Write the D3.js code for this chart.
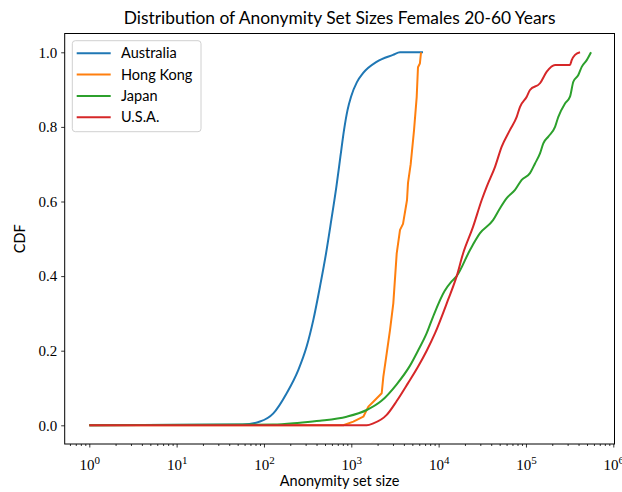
<!DOCTYPE html>
<html lang="en">
<head>
<meta charset="utf-8">
<title>Distribution of Anonymity Set Sizes</title>
<script src="https://d3js.org/d3.v7.min.js"></script>
<style>
  body { margin: 0; background: #fff; }
  .sans { font-family: Lato, "DejaVu Sans", sans-serif; }
  .serif { font-family: "Liberation Serif", "DejaVu Serif", serif; }
</style>
</head>
<body>
<div id="chart"></div>
<script>

// series: [set size, cdf]
var australia = [
  [1, 0], [57, 0.002], [90, 0.01], [128, 0.032], [182, 0.086], [247, 0.148],
  [308, 0.211], [367, 0.282], [438, 0.372], [513, 0.46], [590, 0.55],
  [675, 0.64], [750, 0.72], [826, 0.792], [905, 0.845], [993, 0.881],
  [1160, 0.92], [1362, 0.944], [1969, 0.975], [3003, 0.993], [3613, 1.0],
  [6622, 1.0]
];
var hongKong = [
  [1, 0], [811, 0], [1055, 0.01], [1373, 0.023], [1567, 0.05], [1786, 0.063],
  [2230, 0.086], [2326, 0.13], [2543, 0.193], [2774, 0.255], [3027, 0.327],
  [3311, 0.461], [3613, 0.524], [3910, 0.54], [4345, 0.604], [4460, 0.65],
  [4787, 0.70], [5222, 0.79], [5607, 0.88], [5802, 0.96], [6100, 0.97], [6286, 1.0]
];
var japan = [
  [1, 0], [128, 0.002], [259, 0.007], [438, 0.012], [886, 0.023], [1501, 0.041],
  [2200, 0.065], [3311, 0.11], [4700, 0.16], [5802, 0.2], [7300, 0.247],
  [8625, 0.291], [11700, 0.36], [14000, 0.385], [16100, 0.4], [22870, 0.47],
  [29770, 0.515], [41970, 0.55], [50460, 0.582], [60230, 0.609], [74960, 0.631],
  [89400, 0.658], [111200, 0.676], [127000, 0.702], [144800, 0.729],
  [158000, 0.756], [180400, 0.774], [215300, 0.8], [234700, 0.827],
  [280000, 0.863], [319300, 0.881], [348500, 0.921], [397500, 0.939],
  [434800, 0.961], [496400, 0.979], [556100, 1.0]
];
var usa = [
  [1, 0], [1501, 0], [1786, 0.005], [2543, 0.028], [3311, 0.065], [4460, 0.113],
  [5802, 0.157], [7300, 0.2], [9100, 0.247], [12800, 0.336], [16100, 0.4],
  [19010, 0.46], [24760, 0.532], [31140, 0.604], [35550, 0.64], [44230, 0.693],
  [52760, 0.747], [65650, 0.792], [78340, 0.827], [85500, 0.854], [102000, 0.881],
  [111200, 0.899], [144800, 0.917], [173000, 0.948], [215300, 0.966],
  [319300, 0.966], [334000, 0.979], [364600, 0.993], [416000, 1.0]
];

var seriesNames = ["Australia", "Hong Kong", "Japan", "U.S.A."];
var seriesData = [australia, hongKong, japan, usa];
var seriesColors = ["#1f77b4", "#ff7f0e", "#2ca02c", "#d62728"];

var xMajorTicks = [1, 10, 100, 1000, 10000, 100000, 1000000];
var yTicks = [0, 0.2, 0.4, 0.6, 0.8, 1.0];

var titleText = "Distribution of Anonymity Set Sizes Females 20-60 Years";
var xLabelText = "Anonymity set size";
var yLabelText = "CDF";

var width = 622, height = 492;
var frameLeft = 64.7, frameRight = 614.5, frameTop = 33.5, frameBottom = 444;

var svg = d3.select("#chart").append("svg")
  .attr("width", width)
  .attr("height", height);

// log x scale, 1..1e6 mapped onto tick positions, frame carries 5% margins
var x = d3.scaleLog().domain([1, 1e6]).range([89.3, 613.3]);
var y = d3.scaleLinear().domain([0, 1]).range([425.3, 52.3]);

svg.append("clipPath").attr("id", "frame")
  .append("rect")
  .attr("x", frameLeft).attr("y", frameTop)
  .attr("width", frameRight - frameLeft).attr("height", frameBottom - frameTop);

// minor ticks on x
var minorTicks = [];
for (var e = 0; e < 6; e++) {
  for (var m = 2; m <= 9; m++) minorTicks.push(m * Math.pow(10, e));
}
minorTicks.push(0.6, 0.7, 0.8, 0.9);

var xMinor = svg.append("g")
  .attr("transform", "translate(0," + frameBottom + ")")
  .call(d3.axisBottom(x).tickValues(minorTicks.filter(function(v) {
      return x(v) >= frameLeft && x(v) <= frameRight;
    })).tickSize(2).tickFormat(""));
xMinor.select(".domain").remove();
xMinor.selectAll("line").attr("stroke", "#000").attr("stroke-width", 0.8);

var xAxis = svg.append("g")
  .attr("transform", "translate(0," + frameBottom + ")")
  .call(d3.axisBottom(x).tickValues(xMajorTicks).tickSize(3.5).tickPadding(5).tickFormat(""));
xAxis.select(".domain").remove();
xAxis.selectAll("line").attr("stroke", "#000").attr("stroke-width", 0.8);
xAxis.selectAll(".tick").append("text")
  .attr("class", "serif")
  .attr("fill", "#000")
  .attr("y", 26)
  .attr("x", 0)
  .attr("text-anchor", "middle")
  .attr("font-size", 15)
  .each(function(d) {
    var t = d3.select(this);
    t.append("tspan").text("10");
    t.append("tspan").attr("dy", -6).attr("font-size", 11)
      .text(Math.round(Math.log10(d)));
  });

var yAxis = svg.append("g")
  .attr("transform", "translate(" + frameLeft + ",0)")
  .call(d3.axisLeft(y).tickValues(yTicks).tickSize(3.5).tickPadding(4)
    .tickFormat(d3.format(".1f")));
yAxis.select(".domain").remove();
yAxis.selectAll("line").attr("stroke", "#000").attr("stroke-width", 0.8);
yAxis.selectAll("text")
  .attr("class", "serif")
  .attr("fill", "#000")
  .attr("font-size", 15);

// lines
var line = d3.line()
  .x(function(d) { return x(d[0]); })
  .y(function(d) { return y(d[1]); });

var plot = svg.append("g").attr("clip-path", "url(#frame)");
seriesData.forEach(function(s, i) {
  plot.append("path")
    .datum(s)
    .attr("fill", "none")
    .attr("stroke", seriesColors[i])
    .attr("stroke-width", 2)
    .attr("stroke-linejoin", "round")
    .attr("d", i == 1 ? line.curve(d3.curveLinear)(s) : line.curve(d3.curveMonotoneX)(s));
});

// frame
svg.append("rect")
  .attr("x", frameLeft).attr("y", frameTop)
  .attr("width", frameRight - frameLeft).attr("height", frameBottom - frameTop)
  .attr("fill", "none").attr("stroke", "#000").attr("stroke-width", 1);

// legend
var legend = svg.append("g");
legend.append("rect")
  .attr("x", 72.3).attr("y", 40.7)
  .attr("width", 128.7).attr("height", 91)
  .attr("rx", 3)
  .attr("fill", "#fff").attr("fill-opacity", 0.8)
  .attr("stroke", "#d0d0d0").attr("stroke-width", 1);

seriesNames.forEach(function(name, i) {
  var ry = 53.3 + i * 21.3;
  legend.append("line")
    .attr("x1", 76.7).attr("x2", 110.7)
    .attr("y1", ry).attr("y2", ry)
    .attr("stroke", seriesColors[i]).attr("stroke-width", 2);
  legend.append("text")
    .attr("class", "sans")
    .attr("x", 121).attr("y", ry + 5)
    .attr("font-size", 14.5)
    .attr("fill", "#000")
    .text(name);
});

// titles
svg.append("text")
  .attr("class", "sans")
  .attr("x", (frameLeft + frameRight) / 2).attr("y", 23.5)
  .attr("text-anchor", "middle")
  .attr("font-size", 17.4)
  .attr("fill", "#000")
  .text(titleText);

svg.append("text")
  .attr("class", "sans")
  .attr("x", (frameLeft + frameRight) / 2).attr("y", 486)
  .attr("text-anchor", "middle")
  .attr("font-size", 14.5)
  .attr("fill", "#000")
  .text(xLabelText);

svg.append("text")
  .attr("class", "sans")
  .attr("transform", "translate(25," + ((frameTop + frameBottom) / 2) + ") rotate(-90)")
  .attr("text-anchor", "middle")
  .attr("font-size", 14.5)
  .attr("fill", "#000")
  .text(yLabelText);

</script>
</body>
</html>
